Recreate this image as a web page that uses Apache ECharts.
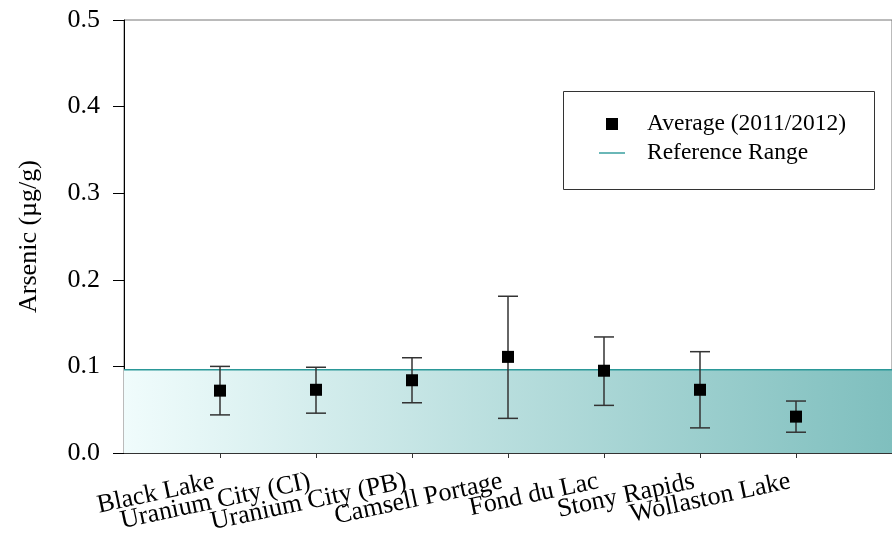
<!DOCTYPE html>
<html>
<head>
<meta charset="utf-8">
<script src="https://cdn.jsdelivr.net/npm/echarts@6/dist/echarts.min.js"></script>
<style>html,body{margin:0;padding:0;background:#fff}#c{width:892px;height:541px}</style>
</head>
<body>
<div id="c"></div>
<script>
var categories = ['', 'Black Lake', 'Uranium City (CI)', 'Uranium City (PB)', 'Camsell Portage', 'Fond du Lac', 'Stony Rapids', 'Wollaston Lake', ''];
var means = [null, 0.072, 0.073, 0.084, 0.111, 0.095, 0.073, 0.042, null];
var highs = [null, 0.100, 0.099, 0.110, 0.181, 0.134, 0.117, 0.060, null];
var lows  = [null, 0.044, 0.046, 0.058, 0.040, 0.055, 0.029, 0.024, null];
var refUpper = 0.096;
var refLine = categories.map(function(){ return refUpper; });

var font = 'Liberation Serif';
var chart = echarts.init(document.getElementById('c'));
var errData = [];
for (var i = 0; i < categories.length; i++) {
  if (means[i] != null) errData.push([i, lows[i], highs[i]]);
}
chart.setOption({
  animation: false,
  grid: {left: 124, right: 0, top: 20, bottom: 88, show: true, borderColor: '#777', borderWidth: 1, outerBoundsMode: 'none', containLabel: false},
  xAxis: {
    type: 'category', data: categories, boundaryGap: false,
    axisLine: {lineStyle: {color: '#333', width: 1}},
    axisTick: {show: true, length: 5, lineStyle: {color: '#333'}, interval: function(idx){ return idx > 0 && idx < categories.length - 1; }},
    axisLabel: {rotate: 12, margin: 27, fontFamily: font, fontSize: 26, color: '#000', interval: 0, padding: [0, 6, 0, 0]}
  },
  yAxis: {
    type: 'value', min: 0, max: 0.5, interval: 0.1,
    name: 'Arsenic (µg/g)', nameLocation: 'middle', nameGap: 82,
    nameTextStyle: {fontFamily: font, fontSize: 26, color: '#000'},
    axisLine: {show: true, lineStyle: {color: '#000', width: 1}},
    axisTick: {show: true, inside: false, length: 11, lineStyle: {color: '#000'}},
    axisLabel: {margin: 24, fontFamily: font, fontSize: 26, color: '#000', formatter: function(v){ return v.toFixed(1); }},
    splitLine: {show: false}
  },
  legend: {
    orient: 'vertical', left: 594, top: 107, itemWidth: 26, itemHeight: 12, itemGap: 5,
    symbolKeepAspect: true,
    textStyle: {fontFamily: font, fontSize: 23.5, color: '#000', lineHeight: 24, padding: [0, 0, 0, 17]},
    data: [
      {name: 'Average (2011/2012)', icon: 'path://M0,0L10,0L10,10L0,10Z'},
      {name: 'Reference Range', icon: 'path://M0,0L26,0L26,1.4L0,1.4Z'}
    ]
  },
  graphic: [{
    type: 'rect', left: 561, top: 89, z: 100, silent: true,
    shape: {width: 311, height: 98},
    style: {fill: 'none', stroke: '#333', lineWidth: 1}
  }],
  series: [
    {
      name: 'Reference Range', type: 'line', data: refLine, symbol: 'none',
      lineStyle: {color: '#2a9898', width: 1.5},
      itemStyle: {color: '#2a9898'},
      areaStyle: {
        opacity: 1,
        color: {type: 'linear', x: 0, y: 0, x2: 1, y2: 0, colorStops: [
          {offset: 0, color: '#f0fcfc'}, {offset: 1, color: '#7fbfbe'}
        ]}
      },
      z: 1
    },
    {
      name: 'errors', type: 'custom', data: errData, z: 3,
      renderItem: function(params, api) {
        var x = api.value(0);
        var lo = api.coord([x, api.value(1)]);
        var hi = api.coord([x, api.value(2)]);
        var hw = 10;
        var st = {stroke: '#333', lineWidth: 1.5};
        return {type: 'group', children: [
          {type: 'line', shape: {x1: lo[0], y1: lo[1], x2: hi[0], y2: hi[1]}, style: st},
          {type: 'line', shape: {x1: lo[0]-hw, y1: lo[1], x2: lo[0]+hw, y2: lo[1]}, style: st},
          {type: 'line', shape: {x1: hi[0]-hw, y1: hi[1], x2: hi[0]+hw, y2: hi[1]}, style: st}
        ]};
      }
    },
    {
      name: 'Average (2011/2012)', type: 'scatter', data: means, symbol: 'rect', symbolSize: 12,
      itemStyle: {color: '#000', opacity: 1}, z: 5
    }
  ]
});
</script>
</body>
</html>
